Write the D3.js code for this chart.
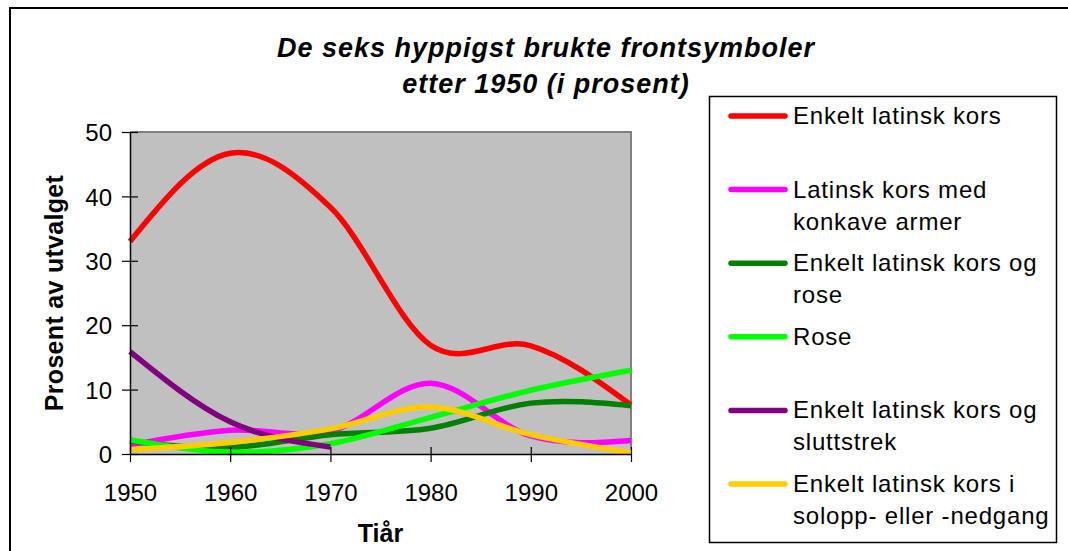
<!DOCTYPE html>
<html>
<head>
<meta charset="utf-8">
<script src="https://cdn.jsdelivr.net/npm/d3@7"></script>
<style>
  body { margin: 0; background: #fff; }
  svg { display: block; font-family: Arial, "Liberation Sans", sans-serif; }
</style>
</head>
<body>
<script>
// tiår (x) og prosentverdier for hver serie
const years = [1950, 1960, 1970, 1980, 1990, 2000];
const enkeltKors = [33, 46.7, 38.3, 16.9, 16.8, 7.6];
const konkaveArmer = [1.4, 3.7, 3.5, 11.0, 2.8, 2.1];
const korsOgRose = [2.0, 1.0, 3.0, 4.0, 7.9, 7.5];
const rose = [2.2, 0.3, 1.6, 5.7, 9.9, 13.0];
const sluttstrek = [15.9, 5.0, 1.1];
const soloppgang = [0.7, 1.8, 3.9, 7.3, 3.0, 0.2];

const yTicks = [0, 10, 20, 30, 40, 50];

const seriesNames = [
    ["Enkelt latinsk kors"],
    ["Latinsk kors med", "konkave armer"],
    ["Enkelt latinsk kors og", "rose"],
    ["Rose"],
    ["Enkelt latinsk kors og", "sluttstrek"],
    ["Enkelt latinsk kors i", "solopp- eller -nedgang"]
];
const seriesValues = [enkeltKors, konkaveArmer, korsOgRose, rose, sluttstrek, soloppgang];
const seriesColors = ["#FF0000", "#FF00FF", "#008000", "#00FF00", "#800080", "#FFCC00"];

const width = 1068, height = 551;

const svg = d3.select("body").append("svg")
    .attr("width", width)
    .attr("height", height);

// ytre ramme
svg.append("rect")
    .attr("x", 10).attr("y", 8)
    .attr("width", 1200).attr("height", 700)
    .attr("fill", "#fff")
    .attr("stroke", "#000")
    .attr("stroke-width", 2);

const x = d3.scaleLinear().domain([1950, 2000]).range([130, 631]);
const y = d3.scaleLinear().domain([0, 50]).range([454, 132]);

// plottområde
svg.append("rect")
    .attr("x", x(1950)).attr("y", y(50))
    .attr("width", x(2000) - x(1950)).attr("height", y(0) - y(50))
    .attr("fill", "#C0C0C0");
svg.append("path")
    .attr("d", `M${x(1950)},${y(50)}H${x(2000)}V${y(0)}`)
    .attr("fill", "none")
    .attr("stroke", "#808080")
    .attr("stroke-width", 2);

// Excel-lignende glatting: Catmull-Rom inni, "naturlig" ende
function smooth(pts) {
    const p = d3.path();
    p.moveTo(pts[0][0], pts[0][1]);
    for (let i = 0; i < pts.length - 1; i++) {
        const p0 = pts[i - 1], p1 = pts[i], p2 = pts[i + 1], p3 = pts[i + 2];
        let c1 = p0 ? [p1[0] + (p2[0] - p0[0]) / 6, p1[1] + (p2[1] - p0[1]) / 6] : null;
        let c2 = p3 ? [p2[0] - (p3[0] - p1[0]) / 6, p2[1] - (p3[1] - p1[1]) / 6] : null;
        if (!c1 && !c2) { c1 = p1; c2 = p2; }
        if (!c1) c1 = [(p1[0] + c2[0]) / 2, (p1[1] + c2[1]) / 2];
        if (!c2) c2 = [(p2[0] + c1[0]) / 2, (p2[1] + c1[1]) / 2];
        p.bezierCurveTo(c1[0], c1[1], c2[0], c2[1], p2[0], p2[1]);
    }
    return p.toString();
}

svg.append("g")
    .selectAll("path")
    .data(seriesValues)
    .join("path")
    .attr("d", vals => smooth(vals.map((v, i) => [x(years[i]), y(v)])))
    .attr("fill", "none")
    .attr("stroke", (d, i) => seriesColors[i])
    .attr("stroke-width", 5.5)
    .attr("stroke-linejoin", "round");

// akser
const yAxis = svg.append("g")
    .attr("transform", `translate(${x(1950)},0)`)
    .call(d3.axisLeft(y).tickValues(yTicks).tickSize(8).tickSizeOuter(0).tickPadding(10));
yAxis.selectAll(".tick line").attr("x2", -8).attr("x1", 8);

const xAxis = svg.append("g")
    .attr("transform", `translate(0,${y(0)})`)
    .call(d3.axisBottom(x).tickValues(years).tickFormat(d3.format("d")).tickSize(8).tickSizeOuter(0).tickPadding(22));
xAxis.selectAll(".tick line").attr("y1", -7).attr("y2", 8);

svg.selectAll(".domain").attr("stroke", "#000").attr("stroke-width", 1.5);
svg.selectAll(".tick line").attr("stroke", "#000").attr("stroke-width", 1.2);
svg.selectAll(".tick text")
    .attr("fill", "#000")
    .style("font-size", "24px")
    .style("font-family", "Arial, 'Liberation Sans', sans-serif");
yAxis.selectAll(".tick text").attr("dy", "0.36em");
xAxis.selectAll(".tick text").attr("dy", "0.72em");

// tittel
svg.append("text")
    .attr("text-anchor", "middle")
    .style("font-size", "27px")
    .style("font-weight", "bold")
    .style("font-style", "italic")
    .style("letter-spacing", "1px")
    .selectAll("tspan")
    .data(["De seks hyppigst brukte frontsymboler", "etter 1950 (i prosent)"])
    .join("tspan")
    .attr("x", 546)
    .attr("y", (d, i) => 57 + i * 36)
    .text(d => d);

// aksetitler
svg.append("text")
    .attr("transform", `translate(63,${(y(0) + y(50)) / 2}) rotate(-90)`)
    .attr("text-anchor", "middle")
    .style("font-size", "25px")
    .style("font-weight", "bold")
    .style("letter-spacing", "0.3px")
    .text("Prosent av utvalget");

svg.append("text")
    .attr("x", (x(1950) + x(2000)) / 2)
    .attr("y", 542)
    .attr("text-anchor", "middle")
    .style("font-size", "25px")
    .style("font-weight", "bold")
    .text("Tiår");

// forklaring
const legend = svg.append("g");
legend.append("rect")
    .attr("x", 709.5).attr("y", 96.5)
    .attr("width", 347).attr("height", 446)
    .attr("fill", "#fff")
    .attr("stroke", "#000")
    .attr("stroke-width", 1.5);

const item = legend.selectAll("g.item")
    .data(seriesNames)
    .join("g")
    .attr("class", "item")
    .attr("transform", (d, i) => `translate(0,${116 + i * 73.6})`);

item.append("line")
    .attr("x1", 731).attr("x2", 785)
    .attr("stroke", (d, i) => seriesColors[i])
    .attr("stroke-width", 5.5)
    .attr("stroke-linecap", "round");

item.append("text")
    .style("font-size", "24px")
    .style("letter-spacing", "0.8px")
    .selectAll("tspan")
    .data(d => d)
    .join("tspan")
    .attr("x", 793)
    .attr("y", (d, i) => 8 + i * 32)
    .text(d => d);
</script>
</body>
</html>
